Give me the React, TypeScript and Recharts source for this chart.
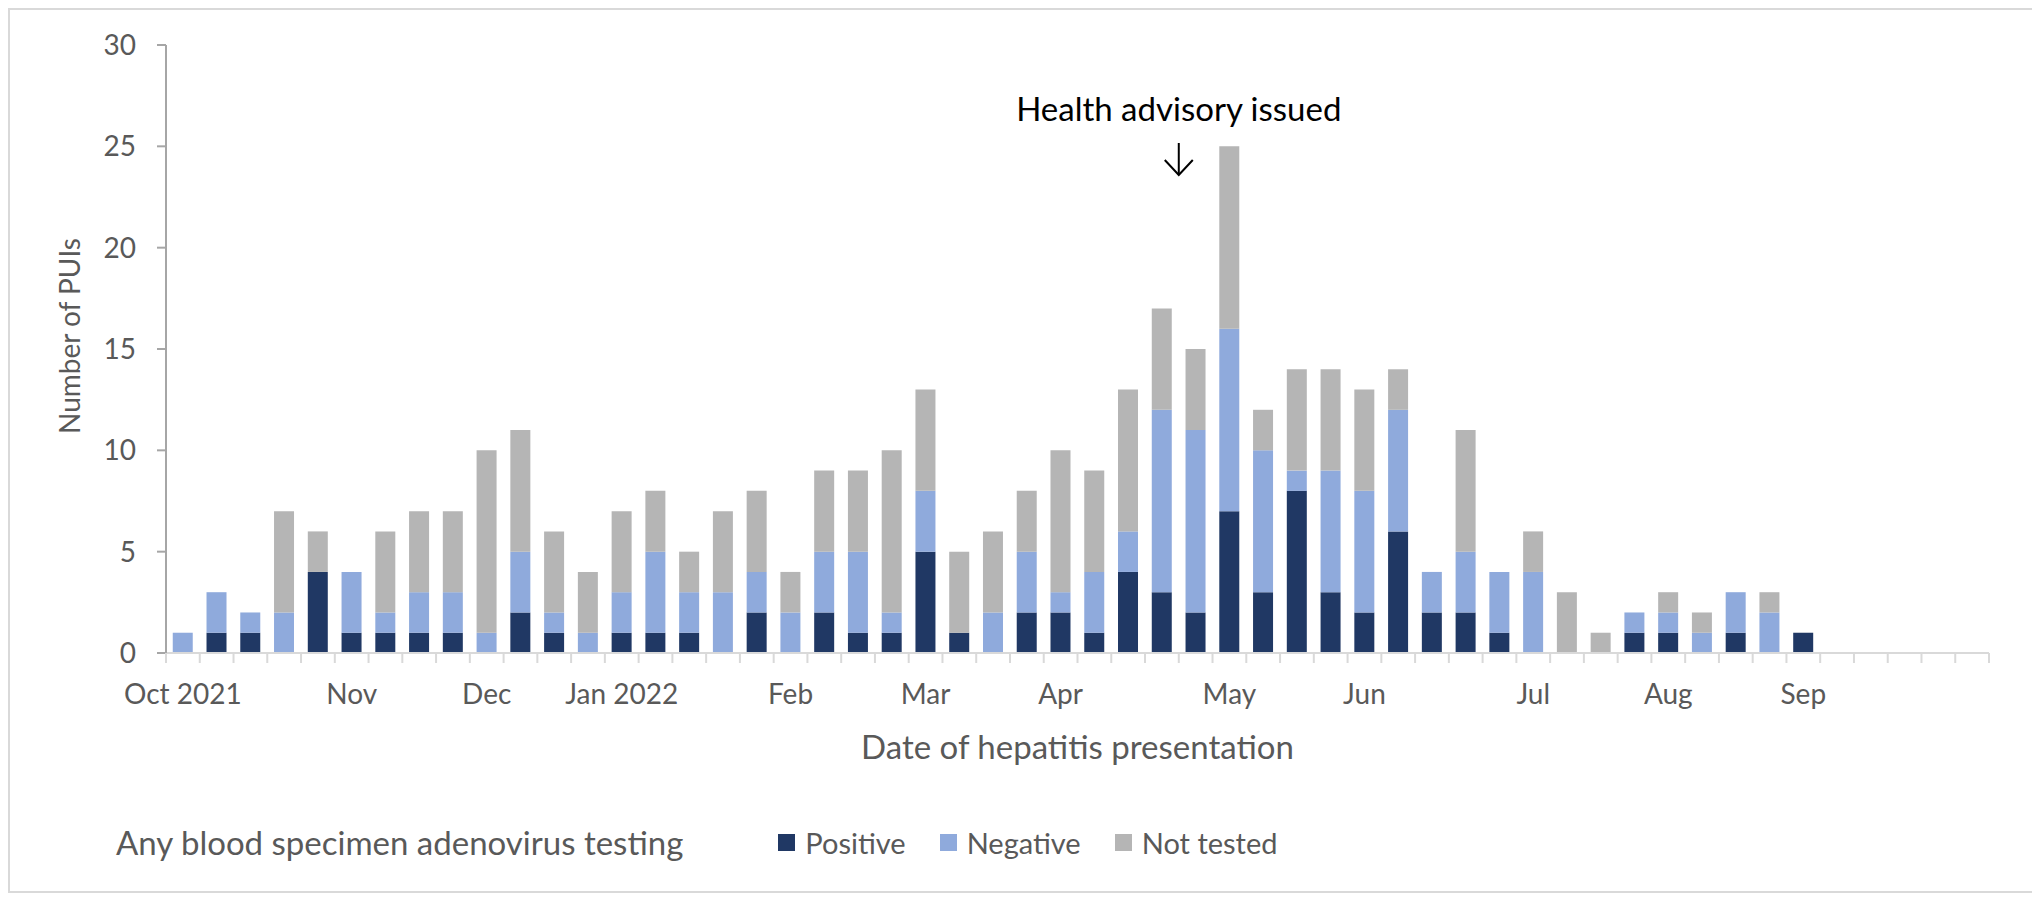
import React from 'react';
import { BarChart, Bar, XAxis, YAxis, ReferenceDot } from 'recharts';

// ---------- data ----------
const weeks = [
  1, 2, 3, 4, 5, 6, 7, 8, 9, 10, 11, 12, 13, 14, 15, 16, 17, 18,
  19, 20, 21, 22, 23, 24, 25, 26, 27, 28, 29, 30, 31, 32, 33, 34, 35, 36,
  37, 38, 39, 40, 41, 42, 43, 44, 45, 46, 47, 48, 49, 50, 51, 52, 53, 54,
];
const positive = [
  0, 1, 1, 0, 4, 1, 1, 1, 1, 0, 2, 1, 0, 1, 1, 1, 0, 2,
  0, 2, 1, 1, 5, 1, 0, 2, 2, 1, 4, 3, 2, 7, 3, 8, 3, 2,
  6, 2, 2, 1, 0, 0, 0, 1, 1, 0, 1, 0, 1, 0, 0, 0, 0, 0,
];
const negative = [
  1, 2, 1, 2, 0, 3, 1, 2, 2, 1, 3, 1, 1, 2, 4, 2, 3, 2,
  2, 3, 4, 1, 3, 0, 2, 3, 1, 3, 2, 9, 9, 9, 7, 1, 6, 6,
  6, 2, 3, 3, 4, 0, 0, 1, 1, 1, 2, 2, 0, 0, 0, 0, 0, 0,
];
const notTested = [
  0, 0, 0, 5, 2, 0, 4, 4, 4, 9, 6, 4, 3, 4, 3, 2, 4, 4,
  2, 4, 4, 8, 5, 4, 4, 3, 7, 5, 7, 5, 4, 9, 2, 5, 5, 5,
  2, 0, 6, 0, 2, 3, 1, 0, 1, 1, 0, 1, 0, 0, 0, 0, 0, 0,
];
const monthTickWeeks = [1, 6, 10, 14, 19, 23, 27, 32, 36, 41, 45, 49];
const monthTickLabels = ['Oct 2021', 'Nov', 'Dec', 'Jan 2022', 'Feb', 'Mar', 'Apr', 'May', 'Jun', 'Jul', 'Aug', 'Sep'];
const yTicks = [0, 5, 10, 15, 20, 25, 30];
const seriesKeys = ['positive', 'negative', 'notTested'];
const seriesNames = ['Positive', 'Negative', 'Not tested'];
const seriesColors = ['#203864', '#8FAADC', '#B5B5B5'];
const legendTitle = 'Any blood specimen adenovirus testing';
const xTitle = 'Date of hepatitis presentation';
const yTitle = 'Number of PUIs';
const annotationText = 'Health advisory issued';
const annotationAfterWeek = 30;

const data = weeks.map((w, i) => ({
  week: w,
  positive: positive[i],
  negative: negative[i],
  notTested: notTested[i],
}));

// ---------- styles ----------
const FONT = 'Lato, "Open Sans", sans-serif';
const TEXT = '#595959';
const FS = 28;
const FS_BIG = 33;
const FS_LEG = 29;
const CHART_W = 2023;
const CHART_H = 881;
const TICK_LEN = 10;

const XTick = (props: any) => {
  const { x, y, payload, index, width } = props;
  const half = payload && typeof payload.offset === 'number' && payload.offset > 0
    ? payload.offset
    : width / (weeks.length * 2);
  const k = monthTickWeeks.indexOf(payload.value);
  const label = k >= 0 ? monthTickLabels[k] : '';
  return (
    <g>
      <line x1={x - half} x2={x - half} y1={y - TICK_LEN} y2={y} stroke="#D9D9D9" strokeWidth={2} />
      {index === weeks.length - 1 && (
        <line x1={x + half} x2={x + half} y1={y - TICK_LEN} y2={y} stroke="#D9D9D9" strokeWidth={2} />
      )}
      {label && (
        <text x={x} y={y + 41} textAnchor="middle" fill={TEXT} fontSize={FS} fontFamily={FONT}>
          {label}
        </text>
      )}
    </g>
  );
};

const XTitle = (props: any) => {
  const vb = props.viewBox || {};
  const cx = vb.x + vb.width / 2;
  return (
    <text x={cx} y={vb.y + 106} textAnchor="middle" fill={TEXT} fontSize={FS_BIG} fontFamily={FONT}>
      {xTitle}
    </text>
  );
};

const YTitle = (props: any) => {
  const vb = props.viewBox || {};
  const bx = vb.x - 26;
  const cy = vb.y + vb.height / 2 - 13;
  return (
    <text
      x={bx}
      y={cy}
      transform={`rotate(-90, ${bx}, ${cy})`}
      textAnchor="middle"
      fill={TEXT}
      fontSize={FS}
      fontFamily={FONT}
    >
      {yTitle}
    </text>
  );
};

const Annotation = (props: any) => {
  const { cx, cy } = props;
  if (typeof cx !== 'number' || typeof cy !== 'number') return <g />;
  const top = cy + 98;
  const tip = cy + 130;
  return (
    <g>
      <text x={cx} y={cy + 76} textAnchor="middle" fill="#000" fontSize={FS_BIG} fontFamily={FONT}>
        {annotationText}
      </text>
      <line x1={cx} x2={cx} y1={top} y2={tip} stroke="#000" strokeWidth={2} />
      <polyline
        points={`${cx - 14},${tip - 15} ${cx},${tip} ${cx + 14},${tip - 15}`}
        fill="none"
        stroke="#000"
        strokeWidth={2}
      />
    </g>
  );
};

export default function App() {
  return (
    <div
      style={{
        position: 'relative',
        width: CHART_W + 4,
        height: CHART_H + 4,
        border: '2px solid #D9D9D9',
        boxSizing: 'border-box',
        background: '#fff',
        fontFamily: FONT,
      }}
    >
      <BarChart
        width={CHART_W - 4}
        height={CHART_H - 4}
        data={data}
        margin={{ top: 35, right: 40, left: 96, bottom: 174 }}
        barCategoryGap="20%"
      >
        <XAxis
          dataKey="week"
          type="category"
          interval={0}
          tickLine={false}
          tickSize={TICK_LEN}
          tickMargin={0}
          axisLine={{ stroke: '#D9D9D9', strokeWidth: 2 }}
          tick={XTick}
          height={60}
          label={XTitle}
        />
        <XAxis
          xAxisId="num"
          dataKey="week"
          type="number"
          domain={[0, weeks.length]}
          allowDataOverflow
          hide
        />
        <YAxis
          domain={[0, 30]}
          ticks={yTicks}
          interval={0}
          width={60}
          tickSize={9}
          tickMargin={21}
          axisLine={{ stroke: '#A6A6A6', strokeWidth: 2 }}
          tickLine={{ stroke: '#A6A6A6', strokeWidth: 2 }}
          tick={{ fill: TEXT, fontSize: FS, fontFamily: FONT }}
          label={YTitle}
        />
        {seriesKeys.map((k, i) => (
          <Bar
            key={k}
            dataKey={k}
            name={seriesNames[i]}
            stackId="a"
            fill={seriesColors[i]}
            isAnimationActive={false}
          />
        ))}
        <ReferenceDot
          xAxisId="num"
          x={annotationAfterWeek}
          y={yTicks[yTicks.length - 1]}
          r={0}
          ifOverflow="visible"
          shape={Annotation}
        />
      </BarChart>
      <div
        style={{
          position: 'absolute',
          left: 106,
          top: 812,
          height: 40,
          display: 'flex',
          alignItems: 'center',
          color: TEXT,
          fontFamily: FONT,
          whiteSpace: 'nowrap',
        }}
      >
        <span style={{ marginRight: 95, fontSize: FS_BIG }}>{legendTitle}</span>
        {seriesNames.map((n, i) => (
          <span key={n} style={{ display: 'flex', alignItems: 'center', marginRight: 34, fontSize: FS_LEG }}>
            <span style={{ width: 17, height: 17, background: seriesColors[i], display: 'inline-block', marginRight: 10 }} />
            <span>{n}</span>
          </span>
        ))}
      </div>
    </div>
  );
}
